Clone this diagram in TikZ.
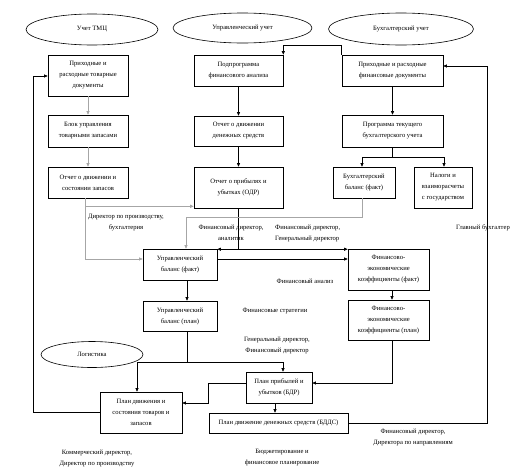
\documentclass[tikz,border=0pt]{standalone}
\usepackage{fontspec}
\setmainfont{Liberation Serif}
\usetikzlibrary{shapes.geometric,arrows.meta,calc}
\tikzset{
  every node/.style={font=\fontsize{6.6}{11}\selectfont},
  box/.style={draw, line width=0.6pt, align=center, inner sep=1pt},
  oval/.style={draw, ellipse, line width=0.6pt, inner sep=0pt},
  lbl/.style={align=center, inner sep=0pt},
  ln/.style={line width=0.6pt},
  arr/.style={line width=0.6pt, -{Triangle[length=3.5pt,width=3pt]}},
  garr/.style={line width=0.6pt, draw=gray!70, -{Triangle[length=3.5pt,width=3pt]}},
  gln/.style={line width=0.6pt, draw=gray!70},
  darr/.style={line width=0.6pt, {Triangle[length=3.5pt,width=3pt]}-{Triangle[length=3.5pt,width=3pt]}}
}
\begin{document}
\begin{tikzpicture}[x=1pt,y=-1pt]
\useasboundingbox (0,0) rectangle (513,474);
% ellipses
\node[oval, minimum width=132pt, minimum height=31pt] (E1) at (92,29.5) {Учет ТМЦ};
\node[oval, minimum width=139pt, minimum height=30pt] (E2) at (242.5,28) {Управленческий учет};
\node[oval, minimum width=145pt, minimum height=32pt] (E3) at (401,29) {Бухгалтерский учет};
\node[oval, minimum width=102pt, minimum height=26pt] (E4) at (92,354.5) {Логистика};
% left column
\node[box, minimum width=80pt, minimum height=41pt] (B1) at (88,75.5) {Приходные и\\расходные товарные\\документы};
\node[box, minimum width=80pt, minimum height=32pt] (B2) at (88,131) {Блок управления\\товарными запасами};
\node[box, minimum width=80pt, minimum height=31pt] (B3) at (88,182.5) {Отчет о движении и\\состоянии запасов};
% middle column
\node[box, minimum width=89pt, minimum height=31pt] (M1) at (238.5,70.5) {Подпрограмма\\финансового анализа};
\node[box, minimum width=89pt, minimum height=30pt] (M2) at (238.5,131) {Отчет о движении\\денежных средств};
\node[box, minimum width=89pt, minimum height=41pt] (M3) at (238.5,187.5) {Отчет о прибылях и\\убытках (ОДР)};
% right column
\node[box, minimum width=101pt, minimum height=31pt] (A1) at (392.5,70.5) {Приходные и расходные\\финансовые документы};
\node[box, minimum width=101pt, minimum height=32pt] (A2) at (392.5,131) {Программа текущего\\бухгалтерского учета};
\node[box, minimum width=62pt, minimum height=31pt] (A3) at (364,182.5) {Бухгалтерский\\баланс (факт)};
\node[box, minimum width=58pt, minimum height=41pt] (A4) at (443,187.5) {Налоги и\\взаиморасчеты\\с государством};
% balances and ratios
\node[box, minimum width=74pt, minimum height=31pt] (U1) at (180,264.5) {Управленческий\\баланс (факт)};
\node[box, minimum width=74pt, minimum height=30pt] (U2) at (180,316) {Управленческий\\баланс (план)};
\node[box, minimum width=81pt, minimum height=41pt] (F1) at (388.5,269.5) {Финансово-\\экономические\\коэффициенты (факт)};
\node[box, minimum width=81pt, minimum height=40pt] (F2) at (388.5,320) {Финансово-\\экономические\\коэффициенты (план)};
% plans
\node[box, minimum width=82pt, minimum height=41pt] (P1) at (141,412.5) {План движения и\\состояния товаров и\\запасов};
\node[box, minimum width=66pt, minimum height=31pt] (P2) at (279,387.5) {План прибылей и\\убытков (БДР)};
\node[box, minimum width=139pt, minimum height=20pt] (P3) at (278.5,423) {План движение денежных средств (БДДС)};
% labels
\node[lbl] (L1) at (126,223) {Директор по производству,\\бухгалтерия};
\node[lbl] (L2) at (231,233) {Финансовый директор,\\аналитик};
\node[lbl, align=left, anchor=west] (L3) at (275,233) {Финансовый директор,\\Генеральный директор};
\node[lbl] (L4) at (305,281) {Финансовый анализ};
\node[lbl] (L5) at (275,311) {Финансовые стратегии};
\node[lbl] (L6) at (277,345) {Генеральный директор,\\Финансовый директор};
\node[lbl] (L7) at (483,228) {Главный бухгалтер};
\node[lbl] (L8) at (413,437.5) {Финансовый директор,\\Директора по направлениям};
\node[lbl] (L9) at (97,458.5) {Коммерческий директор,\\Директор по производству};
\node[lbl] (L10) at (282,457.5) {Бюджетирование и\\финансовое планирование};
% connectors: left column
\draw[garr] (B1) -- (B2);
\draw[garr] (B2) -- (B3);
\draw[garr] ([xshift=-3pt]B3.south) |- ([yshift=2pt]M3.south west);
\draw[garr] ([xshift=-3pt]B3.south) |- ([yshift=5.5pt]U1.west);
% middle column
\draw[arr] (M1) -- (M2);
\draw[arr] (M2) -- (M3);
\draw[ln] (M3.south) -- (M3.south |- U1.north) coordinate (m3j);
\draw[darr] ([yshift=-0.5pt]U1.north east) -- ([yshift=-0.5pt]F1.north west);
% right column
\draw[arr] (A1) -- (A2);
\draw[ln] (A2.south) -- ++(0,10) coordinate (a2j);
\draw[arr] (a2j) -| ([xshift=-2pt]A3.north);
\draw[arr] (a2j) -| ([xshift=1pt]A4.north);
\draw[arr] (A1.north west) -- ++(0,-9) -| (M1.north east);
\draw[garr] ([xshift=-2pt]A3.south) -- ++(0,19) -| ([xshift=6pt]U1.north);
% balances
\draw[arr] ([yshift=5.5pt]U1.east) coordinate (u1e) -- (u1e -| F1.west);
\draw[arr] ([xshift=7pt]U1.south) -- ([xshift=7pt]U2.north);
\draw[arr] ([xshift=3.5pt]F1.south) -- ([xshift=3.5pt]F2.north);
\draw[ln] ([xshift=7pt]U2.south) -- ++(0,31) coordinate (u2j);
\draw[arr] (u2j) -| ([xshift=-4pt]P1.north);
\draw[arr] (u2j) -| ([xshift=4pt]P2.north);
\draw[arr] ([xshift=3.5pt]F2.south) |- ([yshift=4.5pt]P2.east);
% plans
\draw[arr] ([yshift=4.5pt]P2.west) -- ++(-37,0) |- ([yshift=9.5pt]P1.east);
\draw[arr] ([xshift=-4pt]P2.south) -- ([xshift=-4pt]P2.south |- P3.north);
% loops
\coordinate (lt) at (33,76);
\draw[arr] (P1.west) -| (lt) -- (B1.west |- lt);
\coordinate (rt) at (487,66);
\draw[arr] (P3.east) -| (rt) -- (A1.east |- rt);
\end{tikzpicture}
\end{document}
